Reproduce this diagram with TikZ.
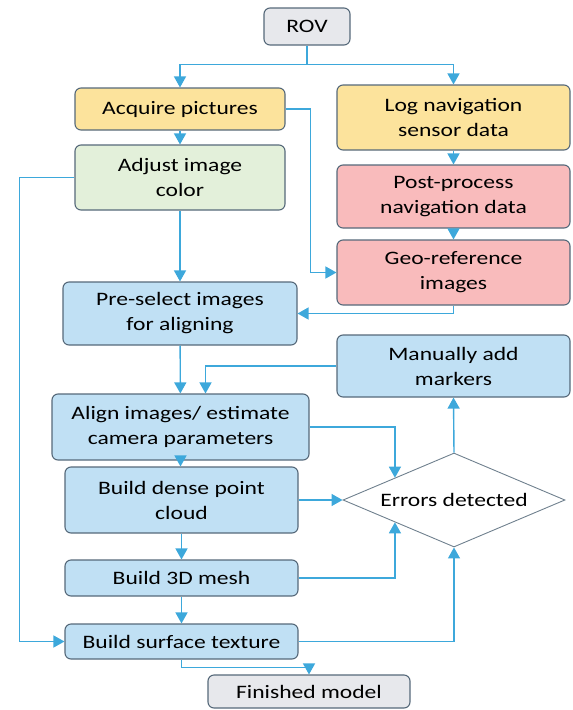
\documentclass[tikz,border=0pt]{standalone}
\usepackage{fontspec}
\setmainfont[FakeStretch=1.24]{Carlito}
\usetikzlibrary{arrows.meta,shapes.geometric,calc}
\definecolor{edgecol}{HTML}{56697A}
\definecolor{linkcol}{HTML}{3DA8DB}
\definecolor{greycol}{HTML}{E7E8EC}
\definecolor{yellowcol}{HTML}{FCE39C}
\definecolor{greencol}{HTML}{E3F0DA}
\definecolor{pinkcol}{HTML}{F9BBBC}
\definecolor{bluecol}{HTML}{C0E0F4}
\tikzset{
    stage/.style={draw=edgecol, line width=1.1pt, rounded corners=6pt, align=center,
        inner sep=2pt, font=\fontsize{19}{25}\selectfont},
    link/.style={draw=linkcol, line width=1.4pt, -{Triangle[width=12pt,length=11pt]}}
}
\begin{document}
\begin{tikzpicture}[x=1pt,y=-1pt]
                \useasboundingbox (0,0) rectangle (573,710);
                \node[stage, fill=greycol, minimum width=86pt, minimum height=37pt] (rov) at (307,26.5) {ROV};
                \node[stage, fill=yellowcol, minimum width=210pt, minimum height=42pt] (acq) at (180,109) {Acquire pictures};
                \node[stage, fill=yellowcol, minimum width=233pt, minimum height=65pt] (log) at (453.5,117.5) {Log navigation\\sensor data};
                \node[stage, fill=greencol, minimum width=210pt, minimum height=65pt] (adj) at (180,177.5) {Adjust image\\color};
                \node[stage, fill=pinkcol, minimum width=233pt, minimum height=63pt] (post) at (453.5,196.5) {Post-process\\navigation data};
                \node[stage, fill=pinkcol, minimum width=233pt, minimum height=65pt] (geo) at (453.5,272.5) {Geo-reference\\images};
                \node[stage, fill=bluecol, minimum width=234pt, minimum height=63pt] (pre) at (180,313.5) {Pre-select images\\for aligning};
                \node[stage, fill=bluecol, minimum width=233pt, minimum height=62pt] (man) at (453.5,366) {Manually add\\markers};
                \node[stage, fill=bluecol, minimum width=257pt, minimum height=66pt] (ali) at (180.5,427) {Align images/ estimate\\camera parameters};
                \node[stage, fill=bluecol, minimum width=233pt, minimum height=66pt] (dense) at (181.5,500) {Build dense point\\cloud};
                \node[stage, fill=bluecol, minimum width=233pt, minimum height=36pt] (mesh) at (181.5,578) {Build 3D mesh};
                \node[stage, fill=bluecol, minimum width=233pt, minimum height=35pt] (tex) at (181.5,641.5) {Build surface texture};
                \node[stage, fill=greycol, minimum width=202pt, minimum height=33pt] (fin) at (309,691.5) {Finished model};
                \node[draw=edgecol!85, line width=0.9pt, diamond, shape aspect=2.36, minimum width=222pt, minimum height=94pt,
                    inner sep=0pt, font=\fontsize{19}{25}\selectfont] (err) at (454,500) {Errors detected};
                \coordinate (errup) at ($(err.west)!0.47!(err.north)$);
                \coordinate (errlow) at ($(err.west)!0.47!(err.south)$);
                \draw[link] (rov.south) -- ++(0,19) -| (acq.north);
                \draw[link] (rov.south) -- ++(0,19) -| (log.north);
                \draw[link] (acq) -- (adj);
                \draw[link] (acq.east) -- ++(25,0) |- (geo.west);
                \draw[link] (log) -- (post);
                \draw[link] (post) -- (geo);
                \draw[link] (adj) -- (pre);
                \draw[link] (adj.west) -- ++(-55,0) |- (tex.west);
                \draw[link] (geo.south) |- (pre.east);
                \draw[link] (pre) -- (ali);
                \draw[link] (man.west) -| ([xshift=25pt]ali.north);
                \draw[link] (ali.east) -| (errup);
                \draw[link] (ali.south) -- ([xshift=-1pt]dense.north);
                \draw[link] (dense) -- (err);
                \draw[link] (dense) -- (mesh);
                \draw[link] (mesh.east) -| (errlow);
                \draw[link] (mesh) -- (tex);
                \draw[link] (tex.east) -| (err.south);
                \draw[link] (err.north) -- (man.south);
                \draw[link] (tex.south) -- ++(0,8) -| (fin.north);
            \end{tikzpicture}
\end{document}
